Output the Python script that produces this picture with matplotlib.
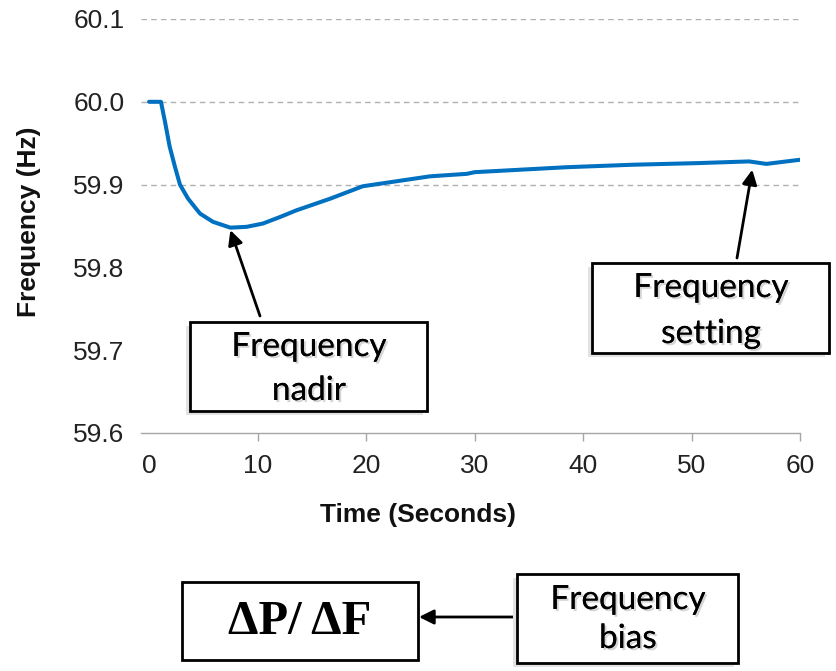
import matplotlib.pyplot as plt
import matplotlib.patheffects as pe
from matplotlib.patches import Rectangle
import numpy as np

# valores
tempo = [0, 1.1, 1.5, 1.9, 2.4, 2.85, 3.6, 4.7, 5.9, 7.5, 9.0, 10.5, 12.1, 13.6,
         16.7, 19.7, 22.8, 25.9, 29.3, 30.0, 38.5, 44.6, 50.7, 55.3, 56.9, 60.0]
freq = [60.0, 60.0, 59.974, 59.946, 59.921, 59.900, 59.883, 59.865, 59.855, 59.848,
        59.849, 59.853, 59.861, 59.869, 59.883, 59.898, 59.904, 59.910, 59.913, 59.915,
        59.921, 59.924, 59.926, 59.928, 59.925, 59.930]
xticks = [0, 10, 20, 30, 40, 50, 60]
yticks = [59.6, 59.7, 59.8, 59.9, 60.0, 60.1]
grid_y = [59.9, 60.0, 60.1]

W, H = 837, 671

def fx(x):
    return x / W

def fy(y):
    return 1 - y / H

fig = plt.figure(figsize=(W / 100, H / 100), dpi=100)
ax = fig.add_axes([fx(141), fy(433), fx(800) - fx(141), fy(19) - fy(433)])

for g in grid_y:
    ax.axhline(g, color='#b0b0b0', linestyle=(0, (4, 3)), linewidth=1, zorder=1)

ax.plot(tempo, freq, color='#0070C0', linewidth=2.9, zorder=3,
        solid_joinstyle='round', solid_capstyle='round')

ax.set_xlim(-0.74, 60)
ax.set_ylim(59.6, 60.1)
ax.set_xticks(xticks)
ax.set_yticks(yticks)
ax.set_yticklabels([f'{v:.1f}' for v in yticks])

ax.spines['top'].set_visible(False)
ax.spines['right'].set_visible(False)
ax.spines['left'].set_visible(False)
ax.spines['bottom'].set_color('#a6a6a6')
ax.spines['bottom'].set_linewidth(1)

ax.tick_params(axis='x', direction='out', length=6, width=1, color='#a6a6a6',
               labelsize=19, pad=9, labelcolor='#222222')
ax.tick_params(axis='y', length=0, labelsize=19, pad=12, labelcolor='#222222')
ax.xaxis.get_major_ticks()[0].tick1line.set_visible(False)
for lab in ax.get_xticklabels() + ax.get_yticklabels():
    lab.set_family('Liberation Sans')

fig.text(fx(418), fy(515), 'Time (Seconds)', ha='center', va='center',
         fontsize=19, fontweight='bold', family='Liberation Sans', color='#111111')
fig.text(fx(29), fy(222), 'Frequency (Hz)', ha='center', va='center', rotation=90,
         fontsize=19, fontweight='bold', family='Liberation Sans', color='#111111')

sombra_txt = [pe.withSimplePatchShadow(offset=(1.5, -1.5), shadow_rgbFace='#888888', alpha=0.35),
              pe.Normal()]


def caixa(x0, y0, x1, y1, sombra=True):
    if sombra:
        fig.patches.append(Rectangle((fx(x0 - 4), fy(y1 + 4)), fx(x1 - x0), fy(y0) - fy(y1),
                                     transform=fig.transFigure, facecolor='#e2e2e2',
                                     edgecolor='none', zorder=4))
    fig.patches.append(Rectangle((fx(x0), fy(y1)), fx(x1 - x0), fy(y0) - fy(y1),
                                 transform=fig.transFigure, facecolor='white',
                                 edgecolor='black', linewidth=2, zorder=5))


def texto(x, y, s, size=24, sombra=True):
    t = fig.text(fx(x), fy(y), s, ha='center', va='baseline', fontsize=size,
                 family='Lato', color='black', zorder=6)
    if sombra:
        t.set_path_effects(sombra_txt)


# caixa nadir
caixa(190, 322, 427, 411)
texto(309, 356, 'Frequency')
texto(309, 400, 'nadir')
i_min = int(np.argmin(freq))
ax.annotate('', xy=(tempo[i_min], freq[i_min] - 0.003), xycoords='data',
            xytext=(fx(260), fy(316)), textcoords='figure fraction',
            arrowprops=dict(arrowstyle='-|>', mutation_scale=22, lw=2, color='black',
                            shrinkA=0, shrinkB=0), zorder=6, annotation_clip=False)

# caixa setting
caixa(592, 263, 829, 353)
texto(711, 297, 'Frequency')
texto(711, 343, 'setting')
ax.annotate('', xy=(55.6, 59.918), xycoords='data',
            xytext=(fx(737), fy(258)), textcoords='figure fraction',
            arrowprops=dict(arrowstyle='-|>', mutation_scale=22, lw=2, color='black',
                            shrinkA=0, shrinkB=0), zorder=6, annotation_clip=False)

# parte de baixo
caixa(182, 582, 418, 660, sombra=False)
fig.text(fx(300), fy(622), 'ΔP/ ΔF', ha='center', va='center', fontsize=35,
         fontweight='bold', family='Liberation Serif', color='black', zorder=6)
caixa(517, 574, 738, 663)
texto(628, 609, 'Frequency')
texto(628, 648, 'bias')
ax.annotate('', xy=(fx(419), fy(617)), xycoords='figure fraction',
            xytext=(fx(517), fy(617)), textcoords='figure fraction',
            arrowprops=dict(arrowstyle='-|>', mutation_scale=22, lw=2, color='black',
                            shrinkA=0, shrinkB=0), zorder=6, annotation_clip=False)

fig.savefig('out.png', dpi=100)
